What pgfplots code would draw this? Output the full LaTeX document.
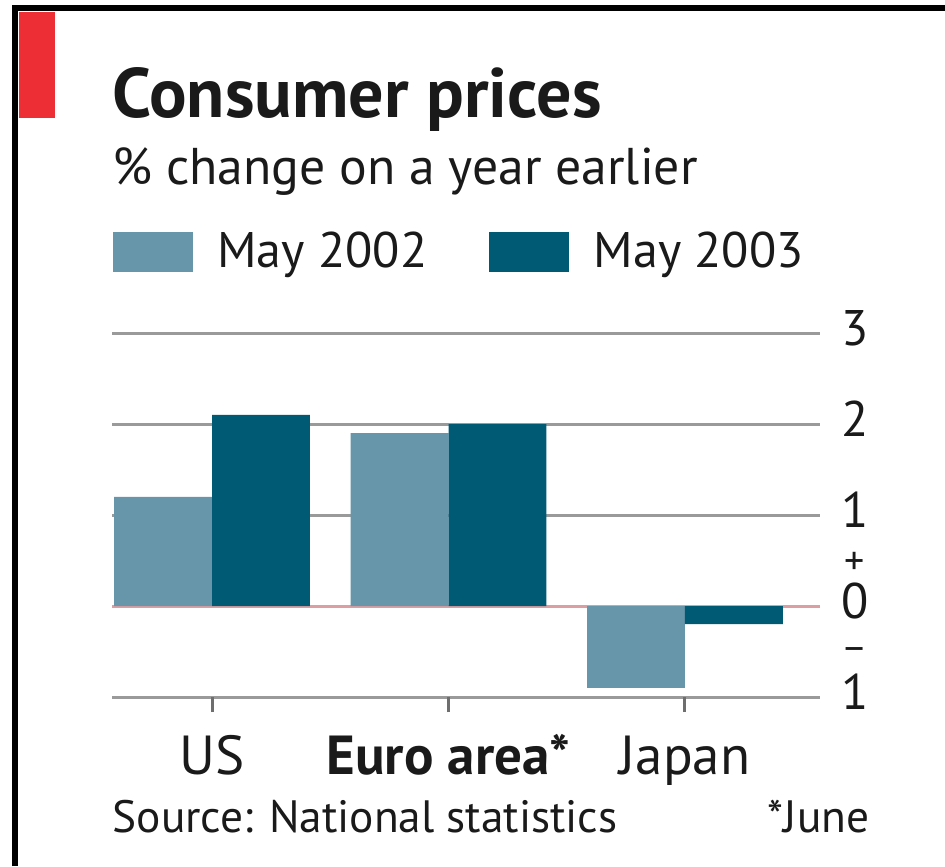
\documentclass[border=0pt]{standalone}
\usepackage{pgfplots}
\pgfplotsset{compat=1.18}
\usepackage{fontspec}
\setmainfont{PT Sans}

\definecolor{barlight}{HTML}{6795A9}
\definecolor{bardark}{HTML}{005A73}
\definecolor{ecored}{HTML}{EE2E35}
\definecolor{gridgrey}{HTML}{9A9A9A}
\definecolor{zeropink}{HTML}{DC9EA3}
\definecolor{tickgrey}{HTML}{6E6E6E}
\definecolor{inktext}{HTML}{1A1A1A}

\begin{document}
\begin{tikzpicture}[x=0.3pt,y=-0.3pt]
\useasboundingbox (0,0) rectangle (945,866);
\fill[white] (0,0) rectangle (945,866);
\draw[black,line width=1.6pt] (15,866) -- (15,8) -- (945,8);
\fill[ecored] (19,12) rectangle (55,118);

\node[anchor=base west,inner sep=0pt,text=inktext,font=\bfseries\fontsize{21}{24}\selectfont] at (112,118) {Consumer prices};
\node[anchor=base west,inner sep=0pt,text=inktext,font=\fontsize{15.5}{18}\selectfont] at (112,185) {\% change on a year earlier};

\begin{axis}[
at={(33.6pt,-209.1pt)},
anchor=south west,
scale only axis,
width=212.4pt,
height=109.2pt,
xmin=-0.423,
xmax=2.571,
ymin=-1,
ymax=3,
axis line style={draw=none},
ytick={-1,1,2,3},
yticklabels={1,1,2,3},
extra y ticks={0},
extra y tick style={grid style={zeropink,line width=0.9pt}},
yticklabel pos=right,
ymajorgrids,
grid style={gridgrey,line width=0.9pt},
ytick style={draw=none},
yticklabel style={xshift=3pt},
xtick={0,1,2},
xticklabels={US,\textbf{Euro area*},Japan},
xtick pos=bottom,
xtick align=outside,
xtick style={draw=tickgrey,line width=0.9pt},
major tick length=4.5pt,
xticklabel style={yshift=-2pt,font=\fontsize{16.5}{19}\selectfont},
typeset ticklabels with strut,
ticklabel style={font=\fontsize{15}{18}\selectfont,text=inktext},
/pgf/number format/assume math mode=true,
clip=false,
legend columns=-1,
legend style={at={(0,1)},anchor=west,yshift=24.3pt,draw=none,fill=none,inner sep=0pt,
  font=\fontsize{15}{18}\selectfont,text=inktext,column sep=6.4pt,
  nodes={inner sep=1pt}},
legend image code/.code={\fill[#1] (0pt,-6pt) rectangle (24pt,6pt);},
]
\addplot[ybar,bar width=0.414,bar shift=-0.207,fill=barlight,draw=none]
  coordinates {(0,1.2) (1,1.9) (2,-0.9)};
\addlegendentry{May 2002\rule{11.1pt}{0pt}}
\addplot[ybar,bar width=0.414,bar shift=0.207,fill=bardark,draw=none]
  coordinates {(0,2.1) (1,2.0) (2,-0.2)};
\addlegendentry{May 2003}
\node[text=inktext,font=\fontsize{12}{14}\selectfont,inner sep=0pt] at (rel axis cs:1,0.375) [xshift=10.5pt,yshift=-1pt] {+};
\node[text=inktext,font=\fontsize{12}{14}\selectfont,inner sep=0pt] at (rel axis cs:1,0.125) [xshift=10.5pt,yshift=-1pt] {\textminus};
\end{axis}

\node[anchor=base west,inner sep=0pt,text=inktext,font=\fontsize{13.6}{16}\selectfont] at (112,832) {Source: National statistics};
\node[anchor=base east,inner sep=0pt,text=inktext,font=\fontsize{13.6}{16}\selectfont] at (870,832) {*June};
\end{tikzpicture}
\end{document}
